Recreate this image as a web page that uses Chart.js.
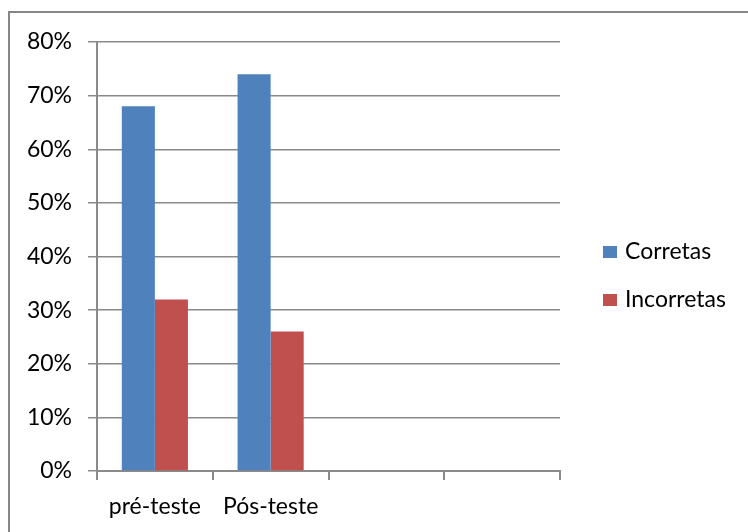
<!DOCTYPE html>
<html>
<head>
<meta charset="utf-8">
<script src="https://cdn.jsdelivr.net/npm/chart.js@4/dist/chart.umd.min.js"></script>
<style>
  html, body { margin: 0; padding: 0; background: #ffffff; }
  #wrap { width: 748px; height: 532px; position: relative; }
</style>
</head>
<body>
<div id="wrap"><canvas id="c" width="748" height="532"></canvas></div>
<script>
// Categories (the last two slots are empty, as in the worksheet range)
const categories = ['pré-teste', 'Pós-teste', '', ''];
// Share of answers, in percent
const corretas = [68, 74, null, null];
const incorretas = [32, 26, null, null];
// Value axis ticks
const yTicks = [0, 10, 20, 30, 40, 50, 60, 70, 80];

const FONT = 'Lato, "Open Sans", sans-serif';
const FONT_SIZE = 23;
const GRID = '#8a8a8a';

// Outer frame of the chart object
const framePlugin = {
  id: 'frame',
  beforeDraw(chart) {
    const ctx = chart.ctx;
    ctx.save();
    ctx.fillStyle = '#ffffff';
    ctx.fillRect(0, 0, chart.width, chart.height);
    ctx.strokeStyle = '#868686';
    ctx.lineWidth = 2;
    ctx.beginPath();
    ctx.moveTo(9, chart.height);
    ctx.lineTo(9, 12);
    ctx.lineTo(chart.width, 12);
    ctx.stroke();
    ctx.restore();
  }
};

// Legend on the right, drawn from the dataset labels and colours
const sideLegend = {
  id: 'sideLegend',
  afterDraw(chart) {
    const ctx = chart.ctx;
    ctx.save();
    ctx.font = FONT_SIZE + 'px ' + FONT;
    ctx.textBaseline = 'middle';
    const x0 = 603, y0 = 252, step = 48;
    chart.data.datasets.forEach((ds, i) => {
      const cy = y0 + i * step;
      ctx.fillStyle = ds.backgroundColor;
      ctx.fillRect(x0, cy - 6, 14, 12);
      ctx.fillStyle = '#000';
      ctx.fillText(ds.label, x0 + 22, cy);
    });
    ctx.restore();
  }
};

new Chart(document.getElementById('c'), {
  type: 'bar',
  data: {
    labels: categories,
    datasets: [
      { label: 'Corretas', data: corretas, backgroundColor: '#4F81BD', borderWidth: 0 },
      { label: 'Incorretas', data: incorretas, backgroundColor: '#C0504D', borderWidth: 0 }
    ]
  },
  options: {
    responsive: false,
    animation: false,
    devicePixelRatio: 1,
    layout: { padding: { left: 0, top: 42, right: 188, bottom: 0 } },
    datasets: { bar: { categoryPercentage: 2 / 3.5, barPercentage: 1 } },
    plugins: {
      legend: { display: false },
      tooltip: { enabled: false }
    },
    scales: {
      x: {
        grid: { display: true, drawOnChartArea: false, drawTicks: true, tickLength: 9, color: GRID, lineWidth: 2, offset: true },
        border: { display: true, color: GRID, width: 2 },
        ticks: { color: '#000', font: { family: FONT, size: FONT_SIZE }, padding: 13, maxRotation: 0, autoSkip: false },
        afterFit(scale) { scale.height = 61; }
      },
      y: {
        min: 0, max: 80,
        afterBuildTicks(scale) { scale.ticks = yTicks.map(v => ({ value: v })); },
        grid: { color: GRID, lineWidth: 1.5, tickLength: 9, drawTicks: true },
        border: { display: true, color: GRID, width: 2 },
        ticks: { color: '#000', font: { family: FONT, size: FONT_SIZE }, padding: 16, callback: v => v + '%' },
        afterFit(scale) { scale.width = 97; }
      }
    }
  },
  plugins: [framePlugin, sideLegend]
});
</script>
</body>
</html>
